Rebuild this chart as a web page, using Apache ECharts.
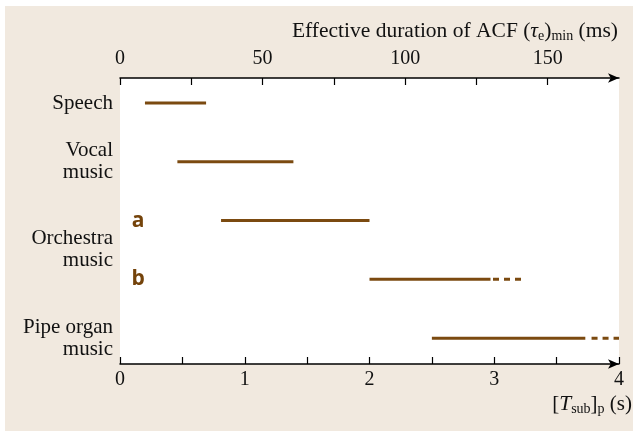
<!DOCTYPE html>
<html>
<head>
<meta charset="utf-8">
<script src="https://cdn.jsdelivr.net/npm/echarts@6/dist/echarts.min.js"></script>
<style>
  html, body { margin: 0; padding: 0; background: #fff; }
  #chart { position: absolute; left: 5px; top: 6px; width: 628px; height: 425px; }
</style>
</head>
<body>
<div id="chart"></div>
<script>
// row labels and where they sit (row index on the y scale)
const rowLabels = ["Speech", "Vocal\nmusic", "Orchestra\nmusic", "Pipe organ\nmusic"];
const rowLabelPos = [0, 1, 2.5, 4];

// ranges in [T_sub]_p (s), one row each: speech, vocal, orchestra a, orchestra b, pipe organ
const rows = [0, 1, 2, 3, 4];
const solidStart = [0.2, 0.46, 0.81, 2.0, 2.5];
const solidEnd = [0.69, 1.39, 2.0, 2.97, 3.73];
const dashStart = [null, null, null, 2.99, 3.78];
const dashEnd = [null, null, null, 3.22, 4.0];

// the a / b markers
const markText = ["a", "b"];
const markRow = [2, 3];
const markX = 0.145;

const brown = "#7b4a10";
const serif = "Liberation Serif, Times New Roman, serif";

const chart = echarts.init(document.getElementById("chart"));

const series = [];
rows.forEach((r, i) => {
  series.push({
    type: "line",
    xAxisIndex: 0,
    symbol: "none",
    silent: true,
    lineStyle: { color: brown, width: 3 },
    data: [[solidStart[i], r], [solidEnd[i], r]],
  });
  if (dashStart[i] != null) {
    series.push({
      type: "line",
      xAxisIndex: 0,
      symbol: "none",
      silent: true,
      lineStyle: { color: brown, width: 3, type: [6, 5], cap: "butt" },
      data: [[dashStart[i], r], [dashEnd[i], r]],
    });
  }
});
series.push({
  type: "scatter",
  xAxisIndex: 0,
  symbolSize: 0,
  silent: true,
  itemStyle: { opacity: 1 },
  data: markText.map((t, i) => ({ value: [markX, markRow[i]], name: t })),
  label: {
    show: true,
    position: "inside",
    formatter: (p) => p.name,
    color: "#74430a",
    opacity: 1,
    textBorderWidth: 0,
    fontFamily: "Open Sans, DejaVu Sans, sans-serif",
    fontWeight: 700,
    fontSize: 21,
  },
});

const richStyle = {
  it: { fontFamily: serif, fontSize: 21.5, fontStyle: "italic", color: "#111" },
  sub: { fontFamily: serif, fontSize: 14, color: "#111", padding: [10, 0, 0, 0] },
};

const option = {
  backgroundColor: "#f1e9df",
  animation: false,
  title: [
    {
      right: 10,
      top: 8,
      text: "Effective duration of ACF ({it|τ}{sub|e}){sub|min} (ms)",
      textStyle: {
        fontFamily: serif,
        fontSize: 21.5,
        fontWeight: "normal",
        color: "#111",
        rich: richStyle,
      },
    },
    {
      right: -4,
      top: 381,
      text: "[{it|T}{sub|sub}]{sub|p} (s)",
      textStyle: {
        fontFamily: serif,
        fontSize: 21,
        fontWeight: "normal",
        color: "#111",
        rich: richStyle,
      },
    },
  ],
  grid: {
    left: 115,
    right: 14,
    top: 72,
    bottom: 67,
    show: true,
    backgroundColor: "#fff",
    borderWidth: 0,
  },
  xAxis: [
    {
      type: "value",
      position: "bottom",
      min: 0,
      max: 4,
      interval: 0.5,
      splitLine: { show: false },
      axisLine: {
        onZero: false,
        lineStyle: { color: "#000", width: 1.5 },
        symbol: ["none", "arrow"],
        symbolSize: [7, 11],
      },
      axisTick: { inside: true, length: 7, lineStyle: { color: "#000", width: 1.2 } },
      axisLabel: {
        fontFamily: serif,
        fontSize: 20,
        color: "#111",
        margin: 6,
        formatter: (v) => (v % 1 === 0 ? String(v) : ""),
      },
    },
    {
      type: "value",
      position: "top",
      min: 0,
      max: 175,
      interval: 25,
      splitLine: { show: false },
      axisLine: {
        onZero: false,
        lineStyle: { color: "#000", width: 1.5 },
        symbol: ["none", "arrow"],
        symbolSize: [7, 11],
      },
      axisTick: { inside: true, length: 7, lineStyle: { color: "#000", width: 1.2 } },
      axisLabel: {
        fontFamily: serif,
        fontSize: 20,
        color: "#111",
        margin: 9,
        showMaxLabel: false,
        formatter: (v) => (v % 50 === 0 ? String(v) : ""),
      },
    },
  ],
  yAxis: {
    type: "value",
    inverse: true,
    min: -0.4255,
    max: 4.44,
    splitLine: { show: false },
    axisLine: { show: false },
    axisTick: { show: false },
    axisLabel: {
      customValues: rowLabelPos,
      fontFamily: serif,
      fontSize: 21,
      lineHeight: 22,
      color: "#111",
      margin: 7,
      align: "right",
      formatter: (v) => rowLabels[rowLabelPos.indexOf(v)] || "",
    },
  },
  series: series,
};

chart.setOption(option);
</script>
</body>
</html>
